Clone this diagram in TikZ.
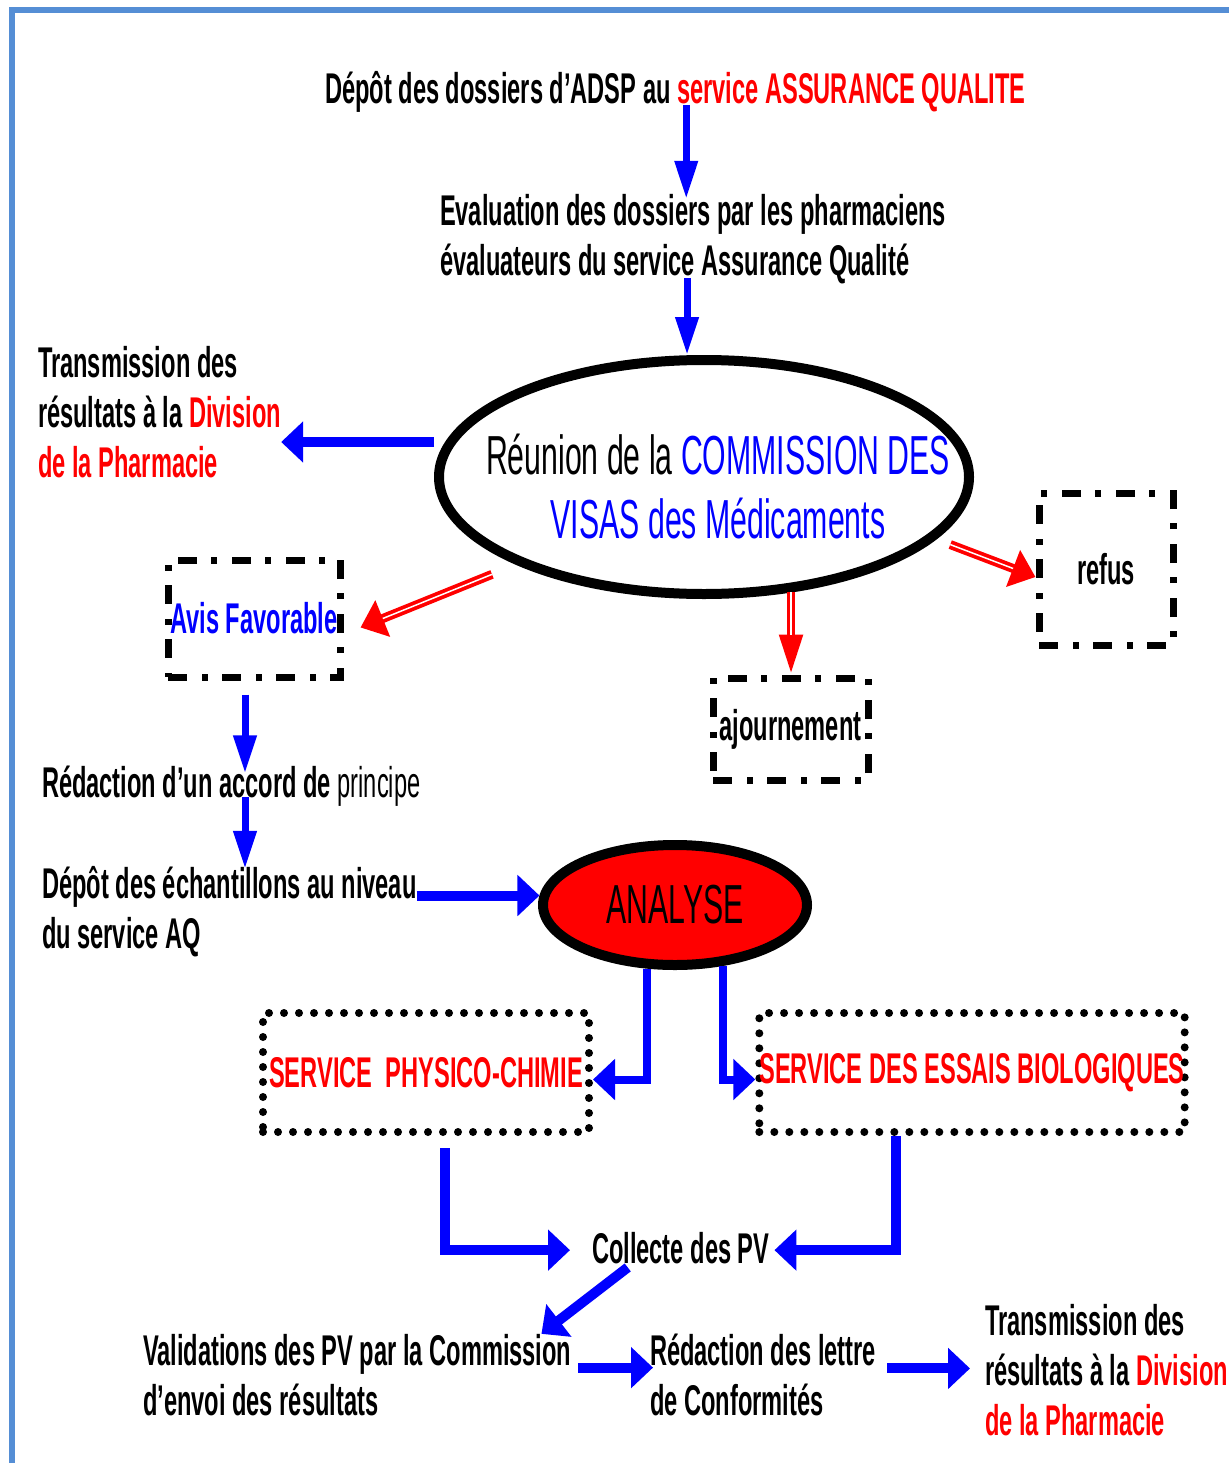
\documentclass[tikz,border=0pt]{standalone}
\usepackage{fontspec}
\setmainfont{Liberation Sans}[FakeStretch=0.55]
\usetikzlibrary{arrows.meta,shapes.geometric}
\definecolor{myblue}{RGB}{0,0,255}
\definecolor{myred}{RGB}{255,0,0}
\definecolor{frameblue}{RGB}{85,142,213}
\begin{document}
\begin{tikzpicture}[x=1pt,y=-1pt,
  f43/.style={font=\fontsize{43}{50}\selectfont\bfseries},
  txt/.style={f43, inner sep=0pt, outer sep=0pt, align=left, anchor=base west},
  bigtxt/.style={font=\fontsize{55}{64}\selectfont, inner sep=0pt, align=center},
  thinarr/.style={draw=myblue, line width=7pt, -{Triangle[length=38pt,width=22pt]}},
  bigarr/.style={draw=myblue, line width=10pt, -{Triangle[length=22pt,width=40pt]}},
  redarr/.style={draw=myred, line width=9pt, -{Triangle[length=24pt,width=38pt]}},
  redarrv/.style={draw=myred, line width=8pt, -{Triangle[length=40pt,width=22pt]}},
  redcore/.style={draw=white, line width=1.5pt},
  dashbox/.style={draw, line width=7pt, dash pattern=on 19pt off 15pt on 6pt off 14pt, inner sep=0pt, f43},
  dotbox/.style={draw, line width=8pt, dash pattern=on 0pt off 15pt, line cap=round, inner sep=0pt, f43, text=myred},
]
\useasboundingbox (0,0) rectangle (1228,1463);
\fill[white] (0,0) rectangle (1228,1463);
\draw[frameblue, line width=6pt] (11.5,1480) -- (11.5,10) -- (1250,10);

% nodes (multi-line nodes: base = baseline of last line)
\node[txt] (t1) at (325,104) {Dépôt des dossiers d’ADSP au \textcolor{myred}{service ASSURANCE QUALITE}};
\node[txt] (t2) at (440,275) {Evaluation des dossiers par les pharmaciens\\évaluateurs du service Assurance Qualité};
\node[txt] (tr1) at (38,477) {Transmission des\\résultats à la \textcolor{myred}{Division}\\\textcolor{myred}{de la Pharmacie}};
\node[ellipse, draw, line width=10pt, minimum width=530pt, minimum height=234pt, inner sep=0pt] (ell) at (704,477) {};
\node[bigtxt, anchor=base] (ellt) at (718,538) {Réunion de la \textcolor{myblue}{COMMISSION DES}\\\textcolor{myblue}{VISAS des Médicaments}};
\node[dashbox, minimum width=172pt, minimum height=117pt, text=myblue] (avis) at (254,618.5) {Avis Favorable};
\node[dashbox, minimum width=155pt, minimum height=102pt] (ajour) at (790.5,729) {ajournement};
\node[dashbox, minimum width=134pt, minimum height=152pt] (refus) at (1106,569) {refus};
\node[txt] (tacc) at (42,797) {Rédaction d’un accord de {\mdseries principe}};
\node[txt] (tdep) at (42,948) {Dépôt des échantillons au niveau\\du service AQ};
\node[ellipse, draw, fill=myred, line width=10pt, minimum width=264pt, minimum height=120pt, inner sep=0pt, font=\fontsize{55}{64}\selectfont] (an) at (675,905) {ANALYSE};
\node[dotbox, minimum width=326pt, minimum height=119pt] (phys) at (426,1072.5) {SERVICE\ \ PHYSICO-CHIMIE};
\node[dotbox, minimum width=422pt, minimum height=119pt] (bio) at (972,1072.5) {SERVICE DES ESSAIS BIOLOGIQUES};
\node[txt] (coll) at (592,1263) {Collecte des PV};
\node[txt] (valid) at (143,1415) {Validations des PV par la Commission\\d’envoi des résultats};
\node[txt] (redac) at (650,1415) {Rédaction des lettre\\de Conformités};
\node[txt] (tr2) at (985,1435) {Transmission des\\résultats à la \textcolor{myred}{Division}\\\textcolor{myred}{de la Pharmacie}};

% connectors
\draw[thinarr, shorten <=-8pt, shorten >=-5pt] ([xshift=11pt]t1.south) -- ([xshift=11pt]t1.south |- t2.north);
\draw[thinarr, shorten <=-5pt] ([xshift=-6pt]t2.south) -- ([xshift=-6pt]t2.south |- ell.north);
\draw[bigarr] ([yshift=35pt]ell.west) -- ([yshift=35pt]ell.west -| tr1.east);

\draw[redarr, shorten <=26pt] (ell.205) -- ([xshift=17pt,yshift=-9pt]avis.east);
\draw[redcore, shorten <=26pt, shorten >=24pt] (ell.205) -- ([xshift=17pt,yshift=-9pt]avis.east);
\draw[redarrv] (ell.-53) -- (ell.-53 |- ajour.north);
\draw[redcore, shorten >=40pt] (ell.-53) -- (ell.-53 |- ajour.north);
\draw[redarr, shorten <=15pt] (ell.-15) -- ([yshift=-8pt]refus.west);
\draw[redcore, shorten <=15pt, shorten >=24pt] (ell.-15) -- ([yshift=-8pt]refus.west);

\coordinate (avx) at ([xshift=-9pt]avis.south);
\draw[thinarr, shorten <=14pt, shorten >=-8pt] (avx) -- (avx |- tacc.north);
\draw[thinarr, shorten <=-9pt, shorten >=-3pt] (avx |- tacc.south) -- (avx |- tdep.north);
\draw[bigarr] (tdep.east |- an.176) -- (an.176);

\draw[bigarr, line width=8pt] (an.-114) |- ([yshift=-7pt]phys.east);
\draw[bigarr, line width=8pt] (an.-52) |- ([yshift=-7pt]bio.west);
\draw[bigarr, shorten <=12pt, shorten >=22pt] ([xshift=19pt]phys.south) |- ([yshift=-2.5pt]coll.west);
\draw[bigarr, shorten >=5pt] ([xshift=-76pt]bio.south) |- ([yshift=-2.5pt]coll.east);
\draw[bigarr] ([xshift=-53pt,yshift=-4pt]coll.south) -- ([xshift=-30pt]valid.north east);
\draw[bigarr, shorten <=7pt, shorten >=-3pt] ([yshift=7pt]valid.east) -- ([yshift=7pt]valid.east -| redac.west);
\draw[bigarr, shorten <=11pt, shorten >=15pt] ([yshift=6pt]redac.east) -- ([yshift=6pt]redac.east -| tr2.west);
\end{tikzpicture}
\end{document}
